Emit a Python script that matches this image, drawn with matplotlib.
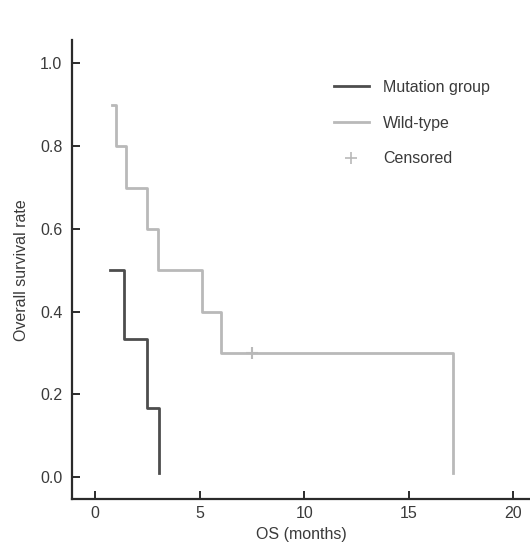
import matplotlib
matplotlib.use("Agg")
import matplotlib.pyplot as plt
from matplotlib.lines import Line2D

plt.rcParams["font.family"] = ["Liberation Sans", "DejaVu Sans"]
plt.rcParams["font.size"] = 11.5

# Kaplan-Meier steps
mut_time = [0.7, 1.4, 2.5, 3.05]
mut_surv = [0.5, 0.333, 0.167, 0.01]

wt_time = [0.8, 1.0, 1.5, 2.5, 3.0, 5.1, 6.0, 17.1]
wt_surv = [0.9, 0.8, 0.7, 0.6, 0.5, 0.4, 0.3, 0.01]

cens_time = [7.5]
cens_surv = [0.3]

x_ticks = [0, 5, 10, 15, 20]
y_ticks = [0.0, 0.2, 0.4, 0.6, 0.8, 1.0]

DARK = "#4d4d4d"
LIGHT = "#b9b9b9"
AXIS = "#2b2b2b"
TEXT = "#3a3a3a"

fig = plt.figure(figsize=(5.30, 5.51), dpi=100)
ax = fig.add_axes([0.136, 0.094, 0.864, 0.833])

ax.plot(mut_time, mut_surv, drawstyle="steps-post", color=DARK, lw=2.0)
ax.plot(wt_time, wt_surv, drawstyle="steps-post", color=LIGHT, lw=2.0)
ax.plot(cens_time, cens_surv, ls="none", marker="+", ms=9, mew=1.5, color=LIGHT)

ax.set_xlim(-1.1, 20.8)
ax.set_ylim(-0.053, 1.056)
ax.set_xticks(x_ticks)
ax.set_yticks(y_ticks)
ax.set_yticklabels([f"{v:.1f}" for v in y_ticks])

for side in ("top", "right"):
    ax.spines[side].set_visible(False)
for side in ("left", "bottom"):
    ax.spines[side].set_linewidth(1.6)
    ax.spines[side].set_color(AXIS)

ax.tick_params(axis="both", direction="in", length=6, width=1.4, color=AXIS,
               labelsize=11.5, labelcolor=TEXT)
ax.tick_params(axis="y", pad=7)
ax.tick_params(axis="x", pad=5)

ax.set_xlabel("OS (months)", fontsize=11.5, color=TEXT, labelpad=4)
ax.set_ylabel("Overall survival rate", fontsize=11.5, color=TEXT, labelpad=8)

handles = [
    Line2D([], [], color=DARK, lw=2.0),
    Line2D([], [], color=LIGHT, lw=2.0),
    Line2D([], [], ls="none", marker="+", ms=9, mew=1.2, color=LIGHT),
]
labels = ["Mutation group", "Wild-type", "Censored"]
leg = ax.legend(handles, labels, loc="upper left", bbox_to_anchor=(0.54, 0.945),
                frameon=False, handlelength=2.2, handletextpad=0.9,
                labelspacing=1.3, fontsize=11.5)
for t in leg.get_texts():
    t.set_color(TEXT)

fig.savefig("out.png", dpi=100)
